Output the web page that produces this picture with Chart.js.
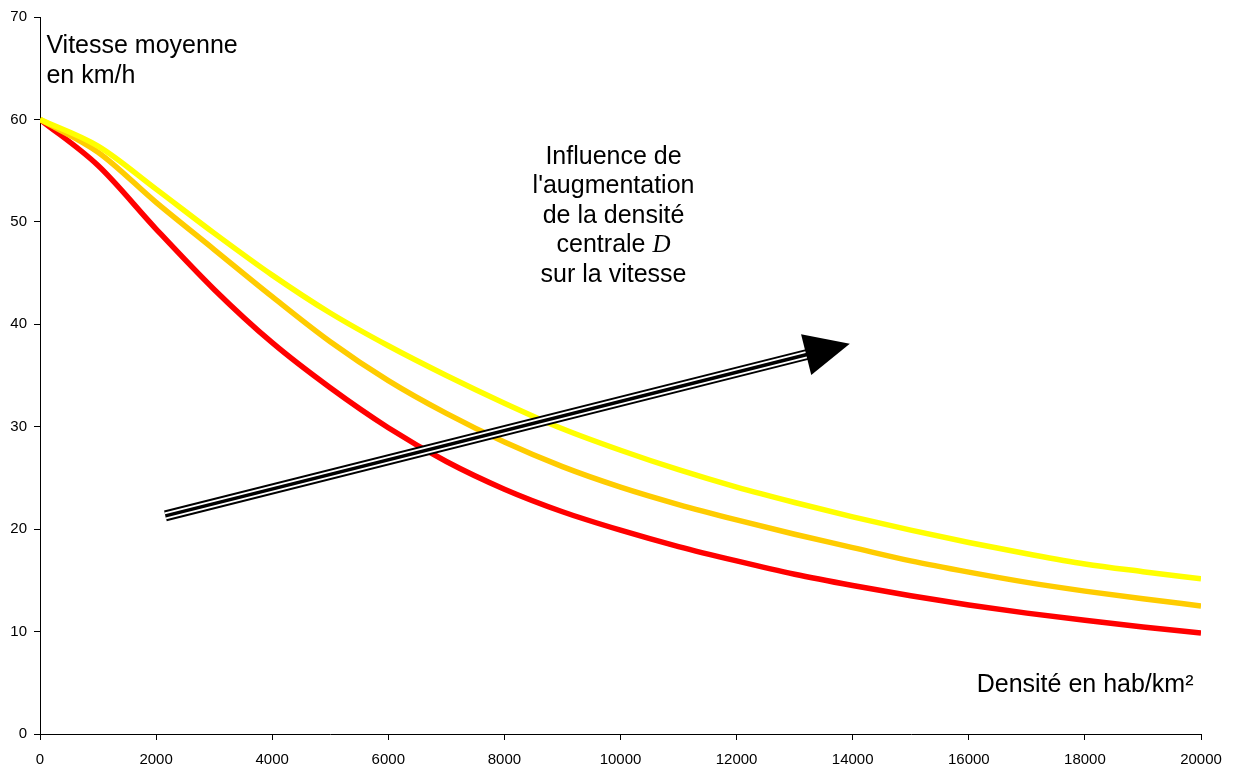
<!DOCTYPE html>
<html>
<head>
<meta charset="utf-8">
<script src="https://cdn.jsdelivr.net/npm/chart.js@4.4.0/dist/chart.umd.min.js"></script>
<style>
  html, body { margin: 0; padding: 0; background: #fff; }
  #wrap { width: 1240px; height: 769px; position: relative; }
</style>
</head>
<body>
<div id="wrap"><canvas id="speedChart"></canvas></div>
<script>
// Densité (hab/km²)
const densities = [0, 1000, 2000, 3000, 4000, 5000, 6000, 7000, 8000, 9000, 10000,
    11000, 12000, 13000, 14000, 15000, 16000, 17000, 18000, 19000, 20000];

// Vitesse moyenne (km/h), one curve per central density
const speedRed = [60, 55.5, 49.3, 43.4, 38.2, 33.8, 29.9, 26.6, 23.9, 21.7, 19.9,
    18.3, 16.9, 15.6, 14.5, 13.5, 12.6, 11.8, 11.1, 10.45, 9.85];
const speedOrange = [60, 56.8, 51.9, 47.3, 42.7, 38.3, 34.5, 31.3, 28.5, 26.1, 24.1,
    22.4, 20.9, 19.5, 18.2, 16.9, 15.8, 14.8, 13.95, 13.2, 12.5];
const speedYellow = [60, 57.4, 53.2, 48.9, 44.8, 41.1, 37.9, 35.0, 32.3, 29.8, 27.7,
    25.8, 24.1, 22.6, 21.2, 19.9, 18.7, 17.6, 16.6, 15.85, 15.15];

// Arrow annotation, in data units: [x, y] start and tip
const arrowStart = [2160, 21.3];
const arrowTip = [13950, 38.1];

const FONT = "'Liberation Sans', Arial, sans-serif";

function toPoints(values) {
    return densities.map((d, i) => ({ x: d, y: values[i] }));
}

// Draw the annotations (texts + triple arrow)
const annotations = {
    id: "annotations",
    afterDatasetsDraw(chart) {
        const ctx = chart.ctx;
        const xs = chart.scales.x;
        const ys = chart.scales.y;
        const px = (v) => xs.getPixelForValue(v);
        const py = (v) => ys.getPixelForValue(v);

        // arrow
        const x0 = px(arrowStart[0]), y0 = py(arrowStart[1]);
        const x1 = px(arrowTip[0]), y1 = py(arrowTip[1]);
        const ang = Math.atan2(y1 - y0, x1 - x0);
        const headLen = 45, headHalf = 21;
        const bx = x1 - headLen * Math.cos(ang);
        const by = y1 - headLen * Math.sin(ang);

        ctx.save();
        ctx.lineCap = "butt";
        [[11, "#000"], [7, "#fff"], [3.5, "#000"]].forEach(([w, c]) => {
            ctx.beginPath();
            ctx.moveTo(x0, y0);
            ctx.lineTo(bx + 2 * Math.cos(ang), by + 2 * Math.sin(ang));
            ctx.lineWidth = w;
            ctx.strokeStyle = c;
            ctx.stroke();
        });
        ctx.beginPath();
        ctx.moveTo(x1, y1);
        ctx.lineTo(bx - headHalf * Math.sin(ang), by + headHalf * Math.cos(ang));
        ctx.lineTo(bx + headHalf * Math.sin(ang), by - headHalf * Math.cos(ang));
        ctx.closePath();
        ctx.fillStyle = "#000";
        ctx.fill();

        // texts
        ctx.fillStyle = "#000";
        ctx.textBaseline = "alphabetic";
        ctx.font = "25px " + FONT;

        ctx.textAlign = "left";
        ctx.fillText("Vitesse moyenne", px(110), py(66.47));
        ctx.fillText("en km/h", px(110), py(66.47) + 30);

        ctx.textAlign = "right";
        ctx.fillText("Densité en hab/km²", px(19870), py(4.13));

        const cx = px(9880);
        const by0 = py(55.66);
        ctx.textAlign = "center";
        ["Influence de", "l'augmentation", "de la densité"].forEach((t, i) => {
            ctx.fillText(t, cx, by0 + i * 29.5);
        });
        // "centrale D" with italic serif D
        const yC = by0 + 3 * 29.5;
        const serif = "italic 25px 'Liberation Serif', 'Times New Roman', serif";
        ctx.font = "25px " + FONT;
        const wA = ctx.measureText("centrale ").width;
        ctx.font = serif;
        const wB = ctx.measureText("D").width;
        const startX = cx - (wA + wB) / 2;
        ctx.textAlign = "left";
        ctx.font = "25px " + FONT;
        ctx.fillText("centrale ", startX, yC);
        ctx.font = serif;
        ctx.fillText("D", startX + wA, yC);
        ctx.font = "25px " + FONT;
        ctx.textAlign = "center";
        ctx.fillText("sur la vitesse", cx, by0 + 4 * 29.5);
        ctx.restore();
    },
};

const ctx = document.getElementById("speedChart").getContext("2d");
new Chart(ctx, {
    type: "line",
    data: {
        datasets: [
            { label: "D3", data: toPoints(speedYellow), borderColor: "#FFFF00" },
            { label: "D2", data: toPoints(speedOrange), borderColor: "#FFCC00" },
            { label: "D1", data: toPoints(speedRed), borderColor: "#FF0000" },
        ].map((ds) => ({
            ...ds,
            borderWidth: 5.5,
            pointRadius: 0,
            fill: false,
            cubicInterpolationMode: "monotone",
        })),
    },
    options: {
        responsive: true,
        maintainAspectRatio: false,
        animation: false,
        layout: { padding: { top: 17, right: 39, left: 0, bottom: 0 } },
        plugins: { legend: { display: false }, tooltip: { enabled: false } },
        scales: {
            x: {
                type: "linear",
                min: 0,
                max: 20000,
                ticks: {
                    stepSize: 2000, color: "#000", font: { family: FONT, size: 15 },
                    padding: 11, maxRotation: 0, callback: (v) => String(v),
                },
                grid: { drawOnChartArea: false, drawTicks: true, tickLength: 6, color: "#000" },
                border: { display: true, color: "#000", width: 1 },
                afterFit: (s) => { s.height = 35; },
            },
            y: {
                min: 0,
                max: 70,
                ticks: { stepSize: 10, color: "#000", font: { family: FONT, size: 15 }, padding: 7 },
                grid: { drawOnChartArea: false, drawTicks: true, tickLength: 6, color: "#000" },
                border: { display: true, color: "#000", width: 1 },
                afterFit: (s) => { s.width = 40; },
            },
        },
    },
    plugins: [annotations],
});
</script>
</body>
</html>
